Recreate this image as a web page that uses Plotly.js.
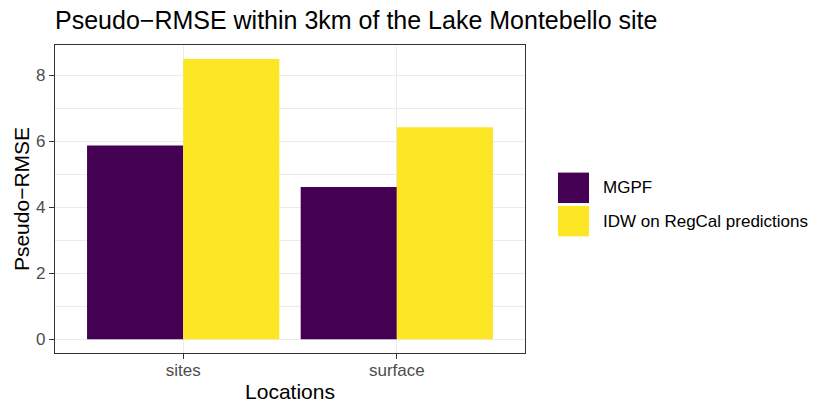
<!DOCTYPE html>
<html>
<head>
<meta charset="utf-8">
<script src="https://cdn.plot.ly/plotly-3.0.1.min.js"></script>
<style>
  html, body { margin: 0; padding: 0; background: #fff; }
  #plot { width: 830px; height: 415px; }
</style>
</head>
<body>
<div id="plot"></div>
<script>
var locations = ["sites", "surface"];
var seriesNames = ["MGPF", "IDW on RegCal predictions"];
var seriesColors = ["#440154", "#FDE725"];
var mgpf = [5.87, 4.61];
var idw = [8.49, 6.42];
var seriesValues = [mgpf, idw];

var FONT = "Liberation Sans, Arial, sans-serif";

var data = seriesValues.map(function (vals, i) {
  return {
    x: locations,
    y: vals,
    name: seriesNames[i],
    type: "bar",
    marker: { color: seriesColors[i], line: { width: 0 } },
    showlegend: false,
    hoverinfo: "x+y+name"
  };
});

// legend drawn by hand, ggplot style keys
var shapes = [];
var annotations = [];
var keyTop = 172.3, keyH = 30.5, keyGap = 2.9;
var panelL = 55, panelW = 470, panelT = 44.5, panelH = 308.5;
function px2x(px) { return (px - panelL) / panelW; }
function px2y(py) { return (panelT + panelH - py) / panelH; }
seriesNames.forEach(function (name, i) {
  var top = keyTop + i * (keyH + keyGap);
  shapes.push({
    type: "rect", xref: "paper", yref: "paper",
    x0: px2x(558), x1: px2x(589), y0: px2y(top + keyH), y1: px2y(top),
    fillcolor: seriesColors[i], line: { width: 0 }
  });
  annotations.push({
    text: name, xref: "paper", yref: "paper",
    x: px2x(601), y: px2y(top + keyH / 2), xanchor: "left", yanchor: "middle",
    showarrow: false, font: { family: FONT, size: 17, color: "#000" }
  });
});

var layout = {
  width: 830,
  height: 415,
  margin: { l: 55, r: 305, t: 44.5, b: 62 },
  paper_bgcolor: "#fff",
  plot_bgcolor: "#fff",
  font: { family: FONT },
  title: {
    text: "Pseudo\u2212RMSE within 3km of the Lake Montebello site",
    font: { family: FONT, size: 25, color: "#000" },
    xref: "paper", x: 0, xanchor: "left",
    yref: "container", y: 1 - 20 / 415, yanchor: "middle"
  },
  bargap: 0.1,
  bargroupgap: 0,
  barmode: "group",
  xaxis: {
    type: "category",
    range: [-0.6, 1.6],
    showgrid: true, gridcolor: "#EBEBEB", gridwidth: 1.1,
    showline: true, mirror: true, linecolor: "#333333", linewidth: 1.1,
    ticks: "outside", ticklen: 5, tickcolor: "#333333", tickwidth: 1.1,
    ticklabelstandoff: -3,
    tickfont: { family: FONT, size: 17, color: "#4D4D4D" },
    title: { text: "Locations", font: { family: FONT, size: 21, color: "#000" }, standoff: 4 },
    zeroline: false,
    automargin: false
  },
  yaxis: {
    range: [-0.415, 8.915],
    dtick: 2, tick0: 0,
    showgrid: true, gridcolor: "#EBEBEB", gridwidth: 1.1,
    minor: { dtick: 1, tick0: 0, showgrid: true, gridcolor: "#EBEBEB", gridwidth: 0.6, ticks: "" },
    showline: true, mirror: true, linecolor: "#333333", linewidth: 1.1,
    ticks: "outside", ticklen: 5, tickcolor: "#333333", tickwidth: 1.1,
    tickfont: { family: FONT, size: 17, color: "#4D4D4D" },
    title: { text: "Pseudo\u2212RMSE", font: { family: FONT, size: 21, color: "#000" }, standoff: 0 },
    zeroline: false,
    automargin: false
  },
  shapes: shapes,
  annotations: annotations
};

Plotly.newPlot("plot", data, layout, { displayModeBar: false });
</script>
</body>
</html>
